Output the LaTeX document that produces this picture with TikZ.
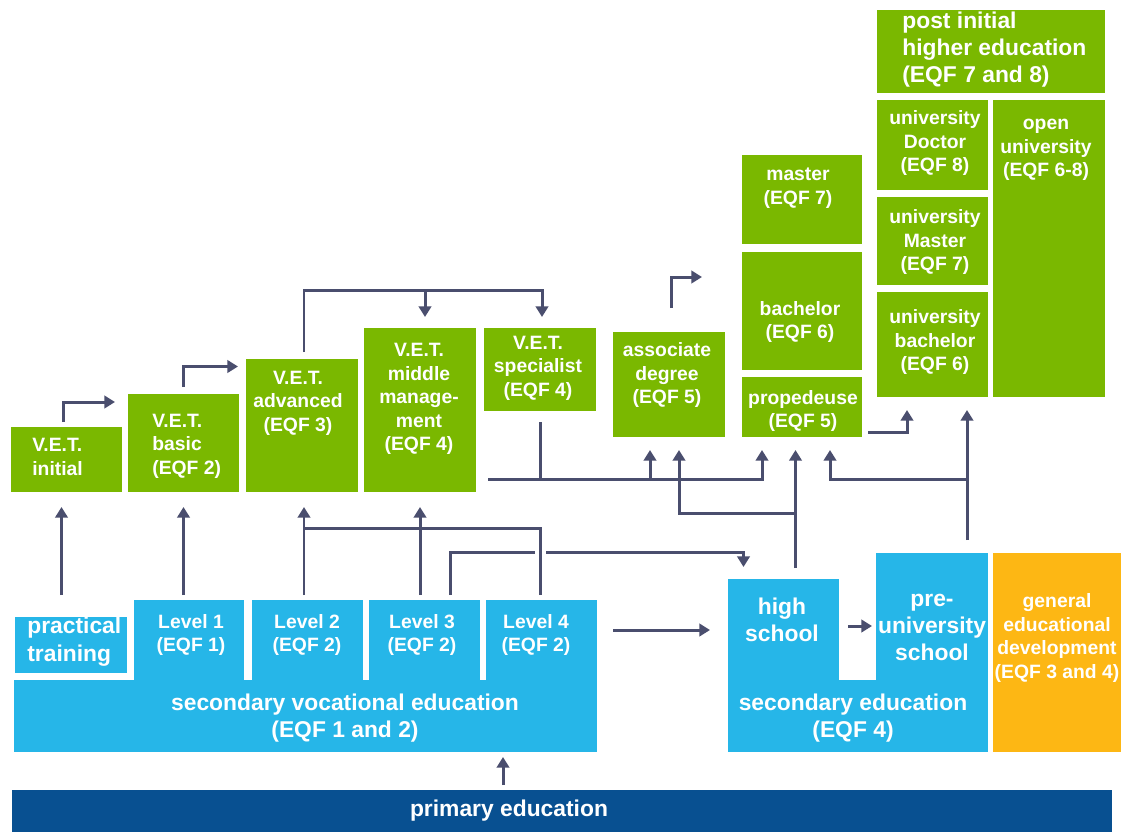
\documentclass[tikz,border=0pt]{standalone}
\usepackage{fontspec}
\setmainfont{Liberation Sans}
\usepackage{tikz}
\usetikzlibrary{arrows.meta,fit,calc,positioning}

\definecolor{vetgreen}{RGB}{122,184,0}
\definecolor{secblue}{RGB}{38,182,232}
\definecolor{primblue}{RGB}{8,80,145}
\definecolor{gedorange}{RGB}{253,183,20}
\definecolor{linkgrey}{RGB}{74,78,110}

\begin{document}
\begin{tikzpicture}[x=0.02cm,y=-0.02cm]

  %Styles for picture
  \tikzset
  {
  plainbox/.style={rectangle, inner sep=0pt, outer sep=0pt},
  greenbox/.style={plainbox, fill=vetgreen},
  bluebox/.style={plainbox, fill=secblue},
  primbox/.style={plainbox, fill=primblue},
  orangebox/.style={plainbox, fill=gedorange},
  gtext/.style={text=white, inner sep=0pt, align=center, font=\bfseries\fontsize{11}{13.4}\selectfont},
  ltext/.style={text=white, inner sep=0pt, align=center, font=\bfseries\fontsize{11}{13.6}\selectfont},
  btext/.style={text=white, inner sep=0pt, align=center, font=\bfseries\fontsize{13}{15.4}\selectfont},
  stext/.style={text=white, inner sep=0pt, align=center, font=\bfseries\fontsize{13}{15.7}\selectfont},
  ptext/.style={text=white, inner sep=0pt, align=left, font=\bfseries\fontsize{13}{15.9}\selectfont},
  link/.style={draw=linkgrey, line width=1.7pt},
  arr/.style={link, -{Triangle[width=7pt,length=6pt]}},
  }

  \fill[white] (0,0) rectangle (1121,832);
  \useasboundingbox (0,0) rectangle (1121,832);

  % Green boxes
  \node[greenbox, fit={(11,427) (122,492)}] (vinit) {};
  \node[greenbox, fit={(128,394) (239,492)}] (vbasic) {};
  \node[greenbox, fit={(246,359) (358,492)}] (vadv) {};
  \node[greenbox, fit={(364,328) (476,492)}] (vmid) {};
  \node[greenbox, fit={(484,328) (596,411)}] (vspec) {};
  \node[greenbox, fit={(613,332) (725,437)}] (assoc) {};
  \node[greenbox, fit={(742,155) (862,244)}] (mast) {};
  \node[greenbox, fit={(742,252) (862,370)}] (bach) {};
  \node[greenbox, fit={(742,377) (862,437)}] (prop) {};
  \node[greenbox, fit={(877,10) (1105,93)}] (post) {};
  \node[greenbox, fit={(877,100) (988,190)}] (udoc) {};
  \node[greenbox, fit={(877,197) (988,285)}] (umast) {};
  \node[greenbox, fit={(877,292) (988,397)}] (ubach) {};
  \node[greenbox, fit={(993,100) (1105,397)}] (open) {};

  % Blue and other boxes
  \node[bluebox, fit={(15,617) (127,673)}] (prac) {};
  \node[bluebox, fit={(134,600) (244,681)}] (lev1) {};
  \node[bluebox, fit={(252,600) (363,681)}] (lev2) {};
  \node[bluebox, fit={(369,600) (480,681)}] (lev3) {};
  \node[bluebox, fit={(486,600) (597,681)}] (lev4) {};
  \node[bluebox, fit={(14,680) (597,752)}] (svoc) {};
  \node[bluebox, fit={(728,579) (839,681)}] (hs) {};
  \node[bluebox, fit={(876,553) (988,681)}] (preu) {};
  \node[bluebox, fit={(728,680) (988,752)}] (secedu) {};
  \node[orangebox, fit={(993,553) (1121,752)}] (ged) {};
  \node[primbox, fit={(12,790) (1112,832)}] (prim) {};

  % Texts
  \node[gtext, anchor=west, align=left] (vinit-t) at (32,457) {V.E.T.\\initial};
  \node[gtext, anchor=west, align=left] (vbasic-t) at (152,446) {V.E.T.\\basic\\(EQF 2)};
  \node[gtext] (vadv-t) at (298,403) {V.E.T.\\advanced\\(EQF 3)};
  \node[gtext] (vmid-t) at (419,399) {V.E.T.\\middle\\manage-\\ment\\(EQF 4)};
  \node[gtext] (vspec-t) at (538,368) {V.E.T.\\specialist\\(EQF 4)};
  \node[gtext] (assoc-t) at (667,375) {associate\\degree\\(EQF 5)};
  \node[gtext] (mast-t) at (798,188) {master\\(EQF 7)};
  \node[gtext] (bach-t) at (800,322) {bachelor\\(EQF 6)};
  \node[gtext] (prop-t) at (803,411) {propedeuse\\(EQF 5)};
  \node[btext, anchor=west, align=left] (post-t) at (902,50) {post initial\\higher education\\(EQF 7 and 8)};
  \node[gtext] (udoc-t) at (935,143) {university\\Doctor\\(EQF 8)};
  \node[gtext] (umast-t) at (935,242) {university\\Master\\(EQF 7)};
  \node[gtext] (ubach-t) at (935,342) {university\\bachelor\\(EQF 6)};
  \node[gtext] (open-t) at (1046,150) {open\\university\\(EQF 6-8)};

  \node[ptext, anchor=west] (prac-t) at (27,642) {practical\\training};
  \node[ltext] (lev1-t) at (191,635) {Level 1\\(EQF 1)};
  \node[ltext] (lev2-t) at (307,635) {Level 2\\(EQF 2)};
  \node[ltext] (lev3-t) at (422,635) {Level 3\\(EQF 2)};
  \node[ltext] (lev4-t) at (536,635) {Level 4\\(EQF 2)};
  \node[stext] (svoc-t) at (345,718) {secondary vocational education\\(EQF 1 and 2)};
  \node[btext] (hs-t) at (782,620) {high\\school};
  \node[btext] (preu-t) at (932,627) {pre-\\university\\school};
  \node[btext] (secedu-t) at (853,718) {secondary education\\(EQF 4)};
  \node[gtext] (ged-t) at (1057,638) {general\\educational\\development\\(EQF 3 and 4)};
  \node[stext] (prim-t) at (509,811) {primary education};

  % Edges
  \draw[arr] ($(lev3.north)+(26,-5)$) |- ($(hs.north)+(-40,-27)$) -- ($(hs.north)+(-40,-12)$);
  \draw[link, preaction={draw=white, line width=6pt}] ($(lev4.north)+(-1,-5)$) |- ($(vadv.south)+(2,36)$); % hop over
  \draw[arr] ($(vinit.south |- lev1.north)+(-5,-5)$) -- ($(vinit.south)+(-5,15)$);
  \draw[arr] ($(vbasic.south |- lev1.north)+(0,-5)$) -- ($(vbasic.south)+(0,15)$);
  \draw[arr] ($(vadv.south |- lev2.north)+(2,-5)$) -- ($(vadv.south)+(2,15)$);
  \draw[arr] ($(vmid.south |- lev3.north)+(0,-5)$) -- ($(vmid.south)+(0,15)$);

  \draw[arr] ($(vinit.north)+(-3,-5)$) |- ($(vbasic.west)+(-13,-41)$);
  \draw[arr] ($(vbasic.north)+(0,-7)$) |- ($(vadv.west)+(-8,-59)$);
  \draw[arr] ($(vadv.north)+(2,-7)$) |- ($(vspec.north)+(2,-38)$) -- ($(vspec.north)+(2,-11)$);
  \draw[arr] ($(vmid.north)+(5,-38)$) -- ($(vmid.north)+(5,-11)$);
  \draw[arr] ($(assoc.north)+(2,-24)$) |- ($(assoc.north)+(33,-55)$);

  \draw[arr] ($(vmid.east)+(12,69)$) -| ($(prop.south west)+(20,13)$);
  \draw[link] ($(vspec.south)+(0,11)$) -- ($(vspec.south)+(0,68)$);
  \draw[arr] ($(assoc.south)+(-19,42)$) -- ($(assoc.south)+(-19,13)$);
  \draw[arr] ($(hs.north)+(12,-11)$) -- ($(hs.north |- prop.south)+(12,13)$);
  \draw[arr] ($(hs.north)+(12,-66)$) -| ($(assoc.south)+(10,13)$);
  \draw[arr] ($(preu.north)+(35,-13)$) -- ($(preu.north |- ubach.south)+(35,13)$);
  \draw[arr] ($(preu.north)+(35,-74)$) -| ($(prop.south)+(28,13)$);
  \draw[arr] ($(prop.south east)+(6,-5)$) -| ($(ubach.south west)+(30,13)$);

  \draw[arr] ($(lev4.east |- hs.west)+(16,0)$) -- ($(hs.west)+(-18,0)$);
  \draw[arr] ($(hs.east)+(9,-4)$) -- ($(preu.west |- hs.east)+(-4,-4)$);
  \draw[arr] ($(prim.north)+(-59,-5)$) -- ($(prim.north)+(-59,-33)$);

\end{tikzpicture}
\end{document}
